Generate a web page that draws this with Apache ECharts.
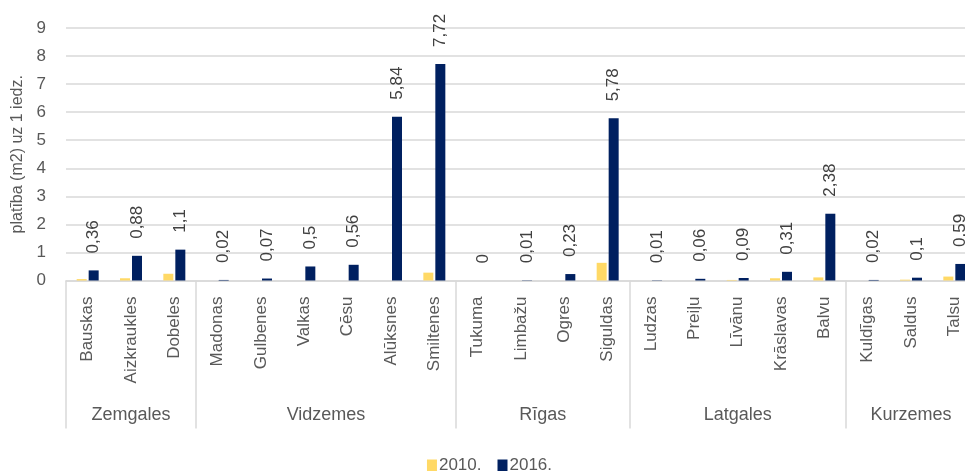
<!DOCTYPE html>
<html>
<head>
<meta charset="utf-8">
<script src="https://cdn.jsdelivr.net/npm/echarts@6/dist/echarts.min.js"></script>
<style>html,body{margin:0;padding:0;background:#fff;overflow:hidden;width:965px;height:471px;}#c{width:979px;height:471px;}</style>
</head>
<body>
<div id="c"></div>
<script>
const categories = ['Bauskas','Aizkraukles','Dobeles','Madonas','Gulbenes','Valkas','Cēsu','Alūksnes','Smiltenes','Tukuma','Limbažu','Ogres','Siguldas','Ludzas','Preiļu','Līvānu','Krāslavas','Balvu','Kuldīgas','Saldus','Talsu'];
const groupNames = ['Zemgales','Vidzemes','Rīgas','Latgales','Kurzemes'];
const groupSizes = [3, 6, 4, 5, 3];
const values2010 = [0.05,0.08,0.24,0,0,0,0,0,0.28,0,0,0,0.63,0,0,0.02,0.08,0.11,0,0.03,0.14];
const values2016 = [0.36,0.88,1.1,0.02,0.07,0.5,0.56,5.84,7.72,0,0.01,0.23,5.78,0.01,0.06,0.09,0.31,2.38,0.02,0.1,0.59];
const seriesNames = ['2010.','2016.'];
const yTicks = [0,1,2,3,4,5,6,7,8,9];

const REG = "'Liberation Sans', Arial, sans-serif";
const TXT = '#595959';

// half-step positions for group axis (boundaryGap false)
const n = categories.length;
const groupAxis = new Array(2 * n + 1).fill('');
const dividerIdx = new Set();
let start = 0;
groupNames.forEach((g, i) => {
  dividerIdx.add(2 * start);
  groupAxis[start + (start + groupSizes[i])] = g;
  start += groupSizes[i];
});
dividerIdx.add(2 * start);

const chart = echarts.init(document.getElementById('c'));
chart.setOption({
  animation: false,
  grid: { left: 66, right: 1, top: 28, bottom: 190.5 },
  legend: {
    top: 452, left: 'center',
    data: seriesNames,
    itemWidth: 10, itemHeight: 12, itemGap: 16,
    icon: 'rect',
    textStyle: { fontFamily: REG, fontSize: 17, color: TXT, padding: [0,0,0,-3] }
  },
  xAxis: [
    {
      type: 'category', data: categories, position: 'bottom',
      axisLine: { show: true, lineStyle: { color: '#d9d9d9', width: 1.5 } },
      axisTick: { show: false },
      axisLabel: { rotate: 90, interval: 0, margin: 16, fontFamily: REG, fontSize: 17, color: TXT }
    },
    {
      type: 'category', data: groupAxis, position: 'bottom', boundaryGap: false,
      axisLine: { show: false },
      axisTick: { show: true, length: 148, inside: false,
        interval: (idx) => dividerIdx.has(idx),
        lineStyle: { color: '#d9d9d9', width: 1.5 } },
      axisLabel: { interval: 0, margin: 126, fontFamily: REG, fontSize: 18, color: TXT }
    }
  ],
  yAxis: {
    type: 'value', min: yTicks[0], max: yTicks[yTicks.length - 1], interval: 1,
    name: 'platība (m2) uz 1 iedz.', nameLocation: 'middle', nameGap: 34, nameRotate: 90,
    nameTextStyle: { fontFamily: REG, fontSize: 16, color: TXT },
    axisLine: { show: false }, axisTick: { show: false },
    axisLabel: { margin: 20, fontFamily: REG, fontSize: 17, color: TXT },
    splitLine: { lineStyle: { color: '#d9d9d9', width: 1.5 } }
  },
  series: [
    {
      name: seriesNames[0], type: 'bar', data: values2010, barWidth: 10, barGap: '20%',
      itemStyle: { color: '#FFD966' }
    },
    {
      name: seriesNames[1], type: 'bar', data: values2016, barWidth: 10, barGap: '20%',
      itemStyle: { color: '#002060' },
      label: {
        show: true, position: 'top', rotate: 90, align: 'left', verticalAlign: 'middle',
        distance: 17, fontFamily: REG, fontSize: 17, color: '#404040',
        formatter: p => String(p.value).replace('.', ',')
      }
    }
  ]
});
</script>
</body>
</html>
